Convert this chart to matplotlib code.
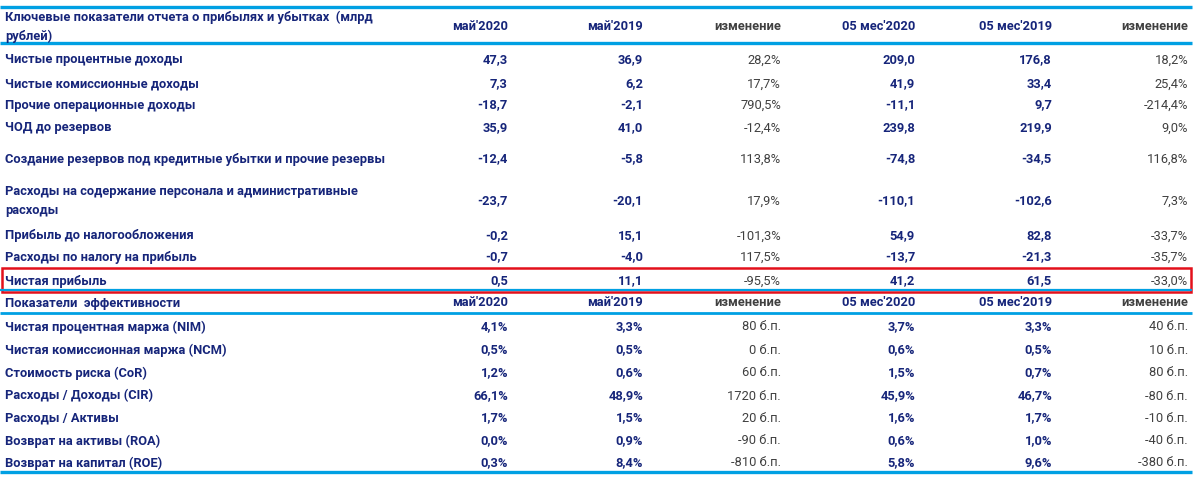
import matplotlib
matplotlib.use("Agg")
import matplotlib.pyplot as plt
from matplotlib.patches import Rectangle

# ---- data ----
col_headers = ["май'2020", "май'2019", "изменение", "05 мес'2020", "05 мес'2019", "изменение"]
pl_title = "Ключевые показатели отчета о прибылях и убытках  (млрд\nрублей)"
pl_rows = ["Чистые процентные доходы", "Чистые комиссионные доходы", "Прочие операционные доходы",
           "ЧОД до резервов", "Создание резервов под кредитные убытки и прочие резервы",
           "Расходы на содержание персонала и административные\nрасходы",
           "Прибыль до налогообложения", "Расходы по налогу на прибыль", "Чистая прибыль"]
pl_may20 = [47.3, 7.3, -18.7, 35.9, -12.4, -23.7, -0.2, -0.7, 0.5]
pl_may19 = [36.9, 6.2, -2.1, 41.0, -5.8, -20.1, 15.1, -4.0, 11.1]
pl_may_chg = [28.2, 17.7, 790.5, -12.4, 113.8, 17.9, -101.3, 117.5, -95.5]
pl_5m20 = [209.0, 41.9, -11.1, 239.8, -74.8, -110.1, 54.9, -13.7, 41.2]
pl_5m19 = [176.8, 33.4, 9.7, 219.9, -34.5, -102.6, 82.8, -21.3, 61.5]
pl_5m_chg = [18.2, 25.4, -214.4, 9.0, 116.8, 7.3, -33.7, -35.7, -33.0]

eff_title = "Показатели  эффективности"
eff_rows = ["Чистая процентная маржа (NIM)", "Чистая комиссионная маржа (NCM)", "Стоимость риска (CoR)",
            "Расходы / Доходы (CIR)", "Расходы / Активы", "Возврат на активы (ROA)", "Возврат на капитал (ROE)"]
eff_may20 = [4.1, 0.5, 1.2, 66.1, 1.7, 0.0, 0.3]
eff_may19 = [3.3, 0.5, 0.6, 48.9, 1.5, 0.9, 8.4]
eff_may_chg = [80, 0, 60, 1720, 20, -90, -810]
eff_5m20 = [3.7, 0.6, 1.5, 45.9, 1.6, 0.6, 5.8]
eff_5m19 = [3.3, 0.5, 0.7, 46.7, 1.7, 1.0, 9.6]
eff_5m_chg = [40, 10, 80, -80, -10, -40, -380]

# ---- layout ----
NAVY = "#16257a"
GREY = "#404040"
BLUE = "#00a0e3"
RED = "#e3101b"
FONT = ["Roboto", "DejaVu Sans"]
FS = 9.3

col_x = [508, 643, 781, 915, 1052, 1188]
pl_y = [60, 84, 105, 128, 159, 201, 236, 257, 281]
eff_head_y = 303
eff_y = [327, 350, 373, 396, 418, 441, 463]

def num(v):
    return f"{v:.1f}".replace(".", ",")

def pct(v):
    return num(v) + "%"

def bp(v):
    return f"{v} б.п."

fig = plt.figure(figsize=(12, 4.8), dpi=100)
ax = fig.add_axes([0, 0, 1, 1])
ax.set_xlim(0, 1200)
ax.set_ylim(480, 0)
ax.axis("off")

def txt(x, y, s, ha="left", color=NAVY, weight="bold"):
    ax.text(x, y, s, ha=ha, va="center", color=color, fontsize=FS, fontweight=weight,
            family=FONT, linespacing=1.6)

def hline(y, lw):
    ax.plot([0, 1192], [y, y], color=BLUE, lw=lw, solid_capstyle="butt")

# header
hline(7, 2.4)
txt(5, 27, pl_title)
for i, (x, h) in enumerate(zip(col_x, col_headers)):
    txt(x, 27, h, ha="right", color=GREY if i in (2, 5) else NAVY)
hline(43, 2.4)

for i, name in enumerate(pl_rows):
    y = pl_y[i]
    txt(5, y, name)
    txt(col_x[0], y, num(pl_may20[i]), "right")
    txt(col_x[1], y, num(pl_may19[i]), "right")
    txt(col_x[2], y, pct(pl_may_chg[i]), "right", GREY, "normal")
    txt(col_x[3], y, num(pl_5m20[i]), "right")
    txt(col_x[4], y, num(pl_5m19[i]), "right")
    txt(col_x[5], y, pct(pl_5m_chg[i]), "right", GREY, "normal")

hline(290, 1.6)
ax.add_patch(Rectangle((1.5, 267.5), 1189, 24.5, fill=False, edgecolor=RED, lw=1.8))

txt(5, eff_head_y, eff_title)
for i, (x, h) in enumerate(zip(col_x, col_headers)):
    txt(x, eff_head_y, h, ha="right", color=GREY if i in (2, 5) else NAVY)
hline(313, 2.0)

for i, name in enumerate(eff_rows):
    y = eff_y[i]
    txt(5, y, name)
    txt(col_x[0], y, pct(eff_may20[i]), "right")
    txt(col_x[1], y, pct(eff_may19[i]), "right")
    txt(col_x[2], y, bp(eff_may_chg[i]), "right", GREY, "normal")
    txt(col_x[3], y, pct(eff_5m20[i]), "right")
    txt(col_x[4], y, pct(eff_5m19[i]), "right")
    txt(col_x[5], y, bp(eff_5m_chg[i]), "right", GREY, "normal")

hline(472, 2.4)

fig.savefig("out.png", dpi=100, facecolor="white")
